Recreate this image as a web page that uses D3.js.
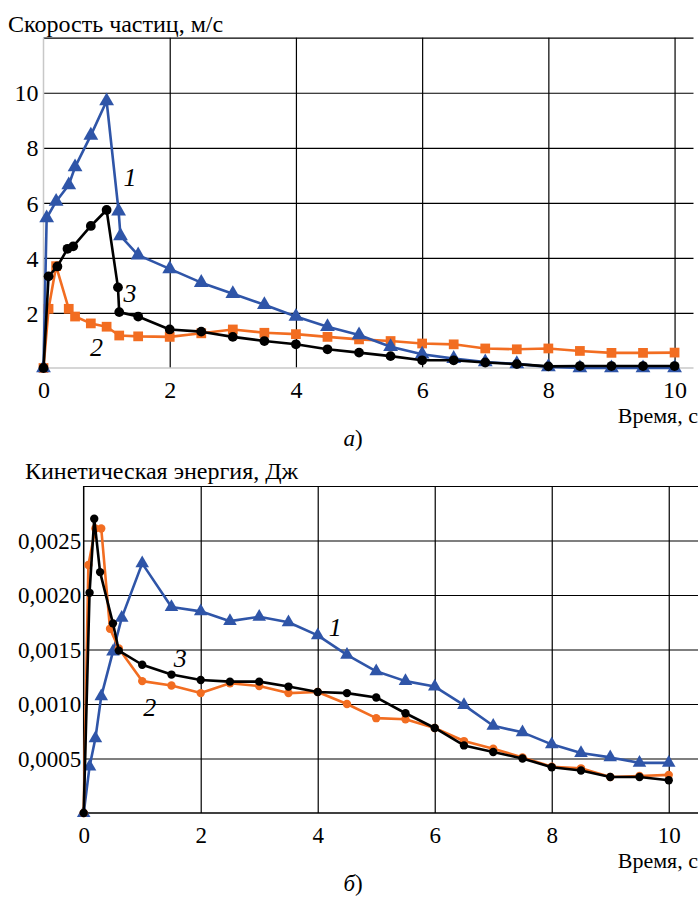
<!DOCTYPE html>
<html>
<head>
<meta charset="utf-8">
<script src="https://cdn.jsdelivr.net/npm/d3@7"></script>
<style>
body { margin: 0; background: #fff; }
svg text { font-family: "Liberation Serif", "DejaVu Serif", serif; fill: #000; }
.lbl { font-style: italic; font-size: 26px; }
</style>
</head>
<body>
<svg id="chart" width="698" height="899"></svg>
<script>
// --- (а) скорость частиц, м/с
var velTime1 = [0, 0.05, 0.2, 0.4, 0.5, 0.75, 1.0, 1.19, 1.22, 1.5, 2, 2.5, 3, 3.5, 4, 4.5, 5, 5.5, 6, 6.5, 7, 7.5, 8, 8.5, 9, 9.5, 10];
var velSeries1 = [0, 5.45, 6.05, 6.65, 7.3, 8.45, 9.7, 5.7, 4.8, 4.1, 3.6, 3.1, 2.7, 2.3, 1.87, 1.5, 1.2, 0.77, 0.5, 0.34, 0.22, 0.15, 0.04, 0, 0, 0, 0];
var velTime2 = [0, 0.08, 0.2, 0.4, 0.5, 0.75, 1.0, 1.2, 1.5, 2, 2.5, 3, 3.5, 4, 4.5, 5, 5.5, 6, 6.5, 7, 7.5, 8, 8.5, 9, 9.5, 10];
var velSeries2 = [0, 2.15, 3.7, 2.15, 1.87, 1.62, 1.5, 1.18, 1.15, 1.13, 1.26, 1.4, 1.28, 1.23, 1.13, 1.04, 0.98, 0.89, 0.86, 0.71, 0.68, 0.71, 0.62, 0.55, 0.55, 0.56];
var velTime3 = [0, 0.08, 0.22, 0.38, 0.47, 0.75, 1.0, 1.18, 1.2, 1.5, 2, 2.5, 3, 3.5, 4, 4.5, 5, 5.5, 6, 6.5, 7, 7.5, 8, 8.5, 9, 9.5, 10];
var velSeries3 = [0, 3.33, 3.69, 4.33, 4.42, 5.16, 5.74, 2.93, 2.03, 1.87, 1.4, 1.32, 1.13, 0.98, 0.86, 0.68, 0.56, 0.43, 0.28, 0.28, 0.2, 0.14, 0.06, 0.07, 0.07, 0.07, 0.07];
var velTicksX = [0, 2, 4, 6, 8, 10];
var velTicksY = [2, 4, 6, 8, 10];

// --- (б) кинетическая энергия, Дж
var enTime1 = [0, 0.1, 0.2, 0.3, 0.5, 0.65, 1.0, 1.5, 2, 2.5, 3, 3.5, 4, 4.5, 5, 5.5, 6, 6.5, 7, 7.5, 8, 8.5, 9, 9.5, 10];
var enSeries1 = [0, 0.000425, 0.000685, 0.00107, 0.00148, 0.00179, 0.00229, 0.00189, 0.00185, 0.00176, 0.0018, 0.00175, 0.00163, 0.00145, 0.0013, 0.00121, 0.00116, 0.00099, 0.0008, 0.00074, 0.00063, 0.00055, 0.00051, 0.00046, 0.00046];
var enTime2 = [0, 0.08, 0.2, 0.3, 0.45, 0.6, 1.0, 1.5, 2, 2.5, 3, 3.5, 4, 4.5, 5, 5.5, 6, 6.5, 7, 7.5, 8, 8.5, 9, 9.5, 10];
var enSeries2 = [0, 0.002275, 0.00261, 0.00261, 0.00169, 0.00151, 0.00121, 0.00117, 0.0011, 0.00119, 0.001165, 0.0011, 0.00111, 0.001, 0.00087, 0.00086, 0.00078, 0.00066, 0.00059, 0.00051, 0.000425, 0.00041, 0.00033, 0.00034, 0.00035];
var enTime3 = [0, 0.1, 0.18, 0.28, 0.5, 0.6, 1.0, 1.5, 2, 2.5, 3, 3.5, 4, 4.5, 5, 5.5, 6, 6.5, 7, 7.5, 8, 8.5, 9, 9.5, 10];
var enSeries3 = [0, 0.00202, 0.0027, 0.00221, 0.00174, 0.00149, 0.00136, 0.00127, 0.00122, 0.001205, 0.001205, 0.00116, 0.00111, 0.0011, 0.00106, 0.000915, 0.00078, 0.00062, 0.00056, 0.0005, 0.00042, 0.00039, 0.00033, 0.00033, 0.0003];
var enTicksX = [0, 2, 4, 6, 8, 10];
var enTicksY = [0.0005, 0.001, 0.0015, 0.002, 0.0025];

var blue = "#2f55a8", orange = "#f26d21", black = "#000";
var serif = "Liberation Serif";

var svg = d3.select("#chart");

function zip(t, v) { return t.map(function(d, i) { return [d, v[i]]; }); }

function drawPanel(o) {
  var x = d3.scaleLinear().domain(o.xDomain).range(o.xRange);
  var y = d3.scaleLinear().domain(o.yDomain).range(o.yRange);
  var g = svg.append("g");

  // horizontal grid
  g.append("g")
      .attr("transform", "translate(" + o.xRange[0] + ",0)")
      .call(d3.axisLeft(y).tickValues(o.yTicks.concat([o.yDomain[1]])).tickSize(-(o.xRange[1] - o.xRange[0])).tickFormat(""))
      .call(function(s) {
        s.select(".domain").remove();
        s.selectAll("line").attr("stroke", "#000").attr("stroke-width", 1.2);
      });
  // vertical grid
  g.append("g")
      .attr("transform", "translate(0," + o.yRange[0] + ")")
      .call(d3.axisBottom(x).tickValues(o.xTicks.slice(1)).tickSize(-(o.yRange[0] - o.yRange[1])).tickFormat(""))
      .call(function(s) {
        s.select(".domain").remove();
        s.selectAll("line").attr("stroke", "#000").attr("stroke-width", 1.2);
      });
  // axis lines
  g.append("line")
      .attr("x1", x(0)).attr("x2", x(0)).attr("y1", o.yRange[0]).attr("y2", o.yRange[1])
      .attr("stroke", o.axisColor).attr("stroke-width", 1.5);
  g.append("line")
      .attr("x1", x(0)).attr("x2", o.xRange[1]).attr("y1", o.yRange[0]).attr("y2", o.yRange[0])
      .attr("stroke", o.axisColor).attr("stroke-width", 1.5);

  // tick labels
  g.append("g")
      .attr("transform", "translate(" + (o.xRange[0] - o.yGap) + ",0)")
      .call(d3.axisLeft(y).tickValues(o.yTicks).tickSize(0).tickPadding(0).tickFormat(o.yFormat))
      .call(function(s) { s.select(".domain").remove(); s.selectAll("text").attr("dy", "0.34em"); })
      .attr("font-family", serif).attr("font-size", o.tickSize);
  g.append("g")
      .attr("transform", "translate(0," + (o.yRange[0] + 30) + ")")
      .call(d3.axisBottom(x).tickValues(o.xTicks).tickSize(0).tickPadding(0).tickFormat(d3.format("d")))
      .call(function(s) { s.select(".domain").remove(); s.selectAll("text").attr("dy", 0).attr("y", 0); })
      .attr("font-family", serif).attr("font-size", o.tickSize);

  var line = d3.line().x(function(d) { return x(d[0]); }).y(function(d) { return y(d[1]); });

  o.series.forEach(function(s) {
    var pts = zip(s.t, s.v);
    g.append("path").datum(pts)
        .attr("d", line).attr("fill", "none")
        .attr("stroke", s.color).attr("stroke-width", 2.6).attr("stroke-linejoin", "round");
    g.append("g").selectAll("path").data(pts).enter().append("path")
        .attr("transform", function(d) { return "translate(" + x(d[0]) + "," + y(d[1]) + ")"; })
        .attr("d", d3.symbol().type(s.symbol).size(s.size))
        .attr("fill", s.color);
  });

  // titles
  g.append("text").attr("x", o.titleX).attr("y", o.titleY).attr("font-size", 24).text(o.title);
  g.append("text").attr("x", 698).attr("y", o.yRange[0] + 55).attr("text-anchor", "end")
      .attr("font-size", 22).text("Время, с");
  g.append("text").attr("x", 353).attr("y", o.yRange[0] + 78).attr("text-anchor", "middle")
      .attr("font-size", 23).html(o.caption);

  o.labels.forEach(function(l) {
    g.append("text").attr("class", "lbl").attr("x", x(l.x)).attr("y", y(l.y))
        .attr("text-anchor", "middle").text(l.text);
  });
}

var commaFmt = function(d) { return d3.format(".4f")(d).replace(".", ","); };

drawPanel({
  xDomain: [0, 10.3], xRange: [43.5, 693.5],
  yDomain: [0, 12], yRange: [368, 37.7],
  xTicks: velTicksX, yTicks: velTicksY, tickSize: 24, yGap: 5,
  yFormat: d3.format("d"), axisColor: "#c8c8c8",
  title: "Скорость частиц, м/с", titleX: 8, titleY: 32,
  caption: "<tspan font-style='italic'>а</tspan>)",
  series: [
    { t: velTime2, v: velSeries2, color: orange, symbol: d3.symbolSquare, size: 95 },
    { t: velTime1, v: velSeries1, color: blue, symbol: d3.symbolTriangle, size: 95 },
    { t: velTime3, v: velSeries3, color: black, symbol: d3.symbolCircle, size: 75 }
  ],
  labels: [
    { x: 1.37, y: 6.6, text: "1" },
    { x: 1.37, y: 2.4, text: "3" },
    { x: 0.84, y: 0.45, text: "2" }
  ]
});

drawPanel({
  xDomain: [0, 10.5], xRange: [83.7, 698],
  yDomain: [0, 0.003], yRange: [813, 486],
  xTicks: enTicksX, yTicks: enTicksY, tickSize: 23, yGap: 2.5,
  yFormat: commaFmt, axisColor: "#000",
  title: "Кинетическая энергия, Дж", titleX: 25, titleY: 479,
  caption: "<tspan font-style='italic'>б</tspan>)",
  series: [
    { t: enTime1, v: enSeries1, color: blue, symbol: d3.symbolTriangle, size: 80 },
    { t: enTime2, v: enSeries2, color: orange, symbol: d3.symbolCircle, size: 55 },
    { t: enTime3, v: enSeries3, color: black, symbol: d3.symbolCircle, size: 55 }
  ],
  labels: [
    { x: 4.3, y: 0.00162, text: "1" },
    { x: 1.65, y: 0.00134, text: "3" },
    { x: 1.13, y: 0.00089, text: "2" }
  ]
});
</script>
</body>
</html>
